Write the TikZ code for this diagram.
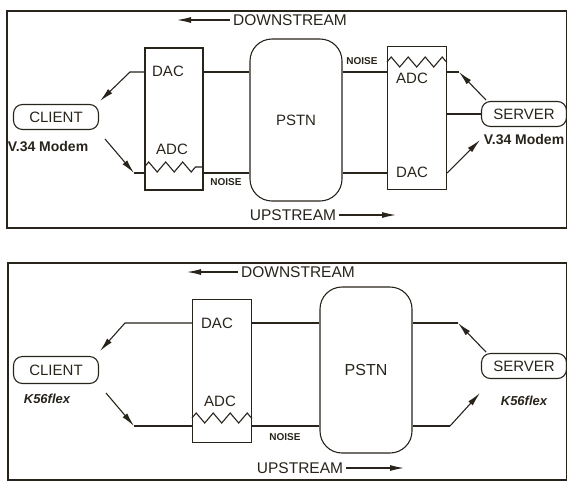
\documentclass[tikz,border=0pt]{standalone}
\usepackage{fontspec}
\setmainfont{Liberation Sans}
\usetikzlibrary{positioning, arrows.meta, decorations.pathmorphing}
\definecolor{ink}{RGB}{40,36,28}

\begin{document}
\begin{tikzpicture}[x=1pt, y=-1pt, draw=ink, text=ink,
    frame/.style={draw=ink, line width=1.6pt},
    box/.style={draw=ink, line width=1.1pt, rectangle, minimum width=58pt, minimum height=142pt, inner sep=0pt},
    pstn/.style={draw=ink, line width=1.1pt, rectangle, rounded corners=22pt, minimum width=92pt, minimum height=162pt, inner sep=0pt, font=\fontsize{15}{18}\selectfont},
    modem/.style={draw=ink, line width=1.1pt, rectangle, rounded corners=9pt, minimum width=85pt, minimum height=25pt, inner sep=0pt, font=\fontsize{15}{18}\selectfont},
    sig/.style={font=\fontsize{15}{18}\selectfont, inner sep=1pt},
    kind/.style={font=\fontsize{14}{16}\selectfont\bfseries, inner sep=1pt},
    flex/.style={font=\fontsize{13}{15}\selectfont\bfseries\itshape, inner sep=1pt},
    noise/.style={font=\fontsize{10}{12}\selectfont\bfseries, inner sep=1pt},
    dir/.style={font=\fontsize{15.5}{18}\selectfont, inner sep=3pt},
    wire/.style={draw=ink, line width=1.1pt},
    zz/.style={decorate, decoration={zigzag, segment length=17pt, amplitude=5pt}},
    arrow/.style={wire, -{Latex[length=14pt,width=6pt]}}
    ]
    \useasboundingbox (0,0) rectangle (567,483);

    % V.34 modems
    \draw[frame] (7,11) rectangle (567,228);
    \node[box] (cbox1) at (174,119) {};
    \node[sig] (cdac1) at (168,71) {DAC};
    \node[sig] (cadc1) at (172,149) {ADC};
    \node[pstn] (pstn1) at (296,120) {PSTN};
    \node[box, minimum width=59pt, minimum height=143pt] (sbox1) at (417,118) {};
    \node[sig] (sadc1) at (412,78) {ADC};
    \node[sig] (sdac1) at (412,172) {DAC};
    \node[modem] (client1) at (56,117) {CLIENT};
    \node[kind, below=10pt of client1, xshift=-8pt] (ctype1) {V.34 Modem};
    \node[modem] (server1) at (524,114) {SERVER};
    \node[kind, below=6.5pt of server1] (stype1) {V.34 Modem};
    \node[dir] (down1) at (290,20) {DOWNSTREAM};
    \node[dir] (up1) at (293,215) {UPSTREAM};
    \node[noise] (noise1a) at (226,182) {NOISE};
    \node[noise] (noise1b) at (362,61) {NOISE};

    \coordinate (hi1) at (0,72);
    \coordinate (lo1) at (0,173);
    \coordinate (zz1a) at (0,167);
    \coordinate (zz1b) at (0,62);
    \coordinate (dtip1) at (177,20);
    \coordinate (utip1) at (396,215);

    \draw[arrow] (down1.west) -- (dtip1);
    \draw[arrow] (up1.east) -- (up1.east -| utip1);
    \draw[wire] (cbox1.east |- hi1) -- (pstn1.west |- hi1);
    \draw[wire] (cbox1.east |- lo1) -- (pstn1.west |- lo1);
    \draw[wire] (pstn1.east |- hi1) -- (sbox1.west |- hi1);
    \draw[wire] (pstn1.east |- lo1) -- (sbox1.west |- lo1);
    \draw[wire, zz] (cbox1.west |- zz1a) -- (cbox1.east |- zz1a);
    \draw[wire, zz] (sbox1.west |- zz1b) -- (sbox1.east |- zz1b);

    \coordinate (cbend1) at (130,72);
    \coordinate (ctip1) at (100,101);
    \coordinate (cfoot1) at (105,139);
    \coordinate (cbend1b) at (134,173);
    \draw[arrow] (cbox1.west |- hi1) -- (cbend1) -- (ctip1);
    \draw[arrow] (cfoot1) -- (cbend1b);
    \draw[wire] (cbend1b) -- (cbox1.west |- lo1);

    \coordinate (sbend1) at (459,72);
    \coordinate (shead1) at (486,100);
    \coordinate (stip1) at (480,140);
    \draw[wire] (sbox1.east |- hi1) -- (sbend1);
    \draw[arrow] (shead1) -- (sbend1);
    \draw[wire] (sbox1.east |- server1) -- (server1.west);
    \draw[arrow] (sbox1.east |- lo1) -- (stip1);

    % K56flex modems
    \draw[frame] (8,263) rectangle (567,480);
    \node[box, minimum width=59pt, minimum height=143pt] (cbox2) at (222,371) {};
    \node[sig] (cdac2) at (217,323) {DAC};
    \node[sig] (cadc2) at (220,401) {ADC};
    \node[pstn, minimum height=166pt, font=\fontsize{16}{19}\selectfont] (pstn2) at (366,370) {PSTN};
    \node[modem, minimum height=27pt] (client2) at (56,370) {CLIENT};
    \node[flex, below=9pt of client2, xshift=-9pt] (ctype2) {K56flex};
    \node[modem] (server2) at (524,366) {SERVER};
    \node[flex, below=16pt of server2] (stype2) {K56flex};
    \node[dir] (down2) at (298,272) {DOWNSTREAM};
    \node[dir] (up2) at (300,468) {UPSTREAM};
    \node[noise] (noise2) at (285,437) {NOISE};

    \coordinate (hi2) at (0,323);
    \coordinate (lo2) at (0,426);
    \coordinate (zz2) at (0,418);
    \coordinate (dtip2) at (187,272);
    \coordinate (utip2) at (404,468);

    \draw[arrow] (down2.west) -- (dtip2);
    \draw[arrow] (up2.east) -- (up2.east -| utip2);
    \draw[wire] (cbox2.east |- hi2) -- (pstn2.west |- hi2);
    \draw[wire] (cbox2.east |- lo2) -- (pstn2.west |- lo2);
    \draw[wire, zz] (cbox2.west |- zz2) -- (cbox2.east |- zz2);

    \coordinate (cbend2) at (125,323);
    \coordinate (ctip2) at (100,351);
    \coordinate (cfoot2) at (106,393);
    \coordinate (cbend2b) at (134,426);
    \draw[arrow] (cbox2.west |- hi2) -- (cbend2) -- (ctip2);
    \draw[arrow] (cfoot2) -- (cbend2b);
    \draw[wire] (cbend2b) -- (cbox2.west |- lo2);

    \coordinate (sbend2) at (458,323);
    \coordinate (shead2) at (486,352);
    \coordinate (sbend2b) at (450,426);
    \coordinate (stip2) at (480,393);
    \draw[wire] (pstn2.east |- hi2) -- (sbend2);
    \draw[arrow] (shead2) -- (sbend2);
    \draw[wire] (pstn2.east |- lo2) -- (sbend2b);
    \draw[arrow] (sbend2b) -- (stip2);
\end{tikzpicture}
\end{document}
